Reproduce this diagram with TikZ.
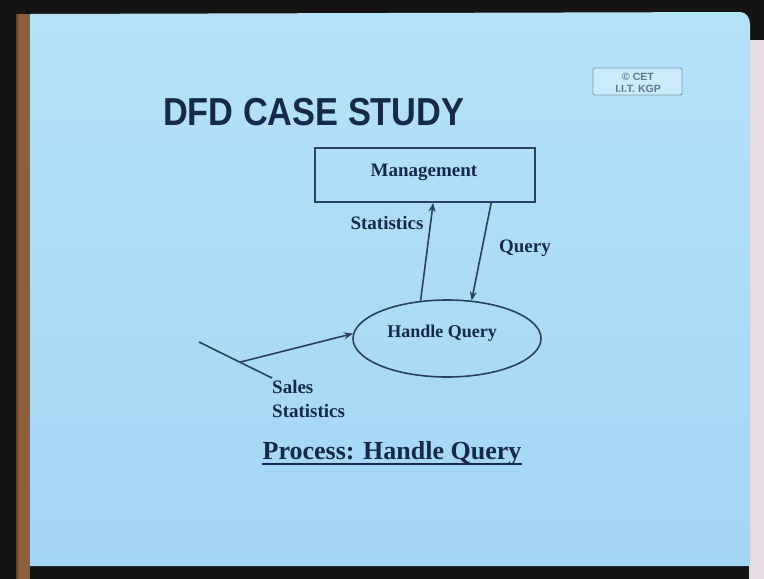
\documentclass[tikz,border=0pt]{standalone}
\usepackage{fontspec}
\setmainfont{Liberation Serif}
\newfontfamily\headfont{Liberation Sans}
\usetikzlibrary{arrows.meta,shapes.geometric,calc}

\definecolor{ink}{HTML}{17294A}
\definecolor{wire}{HTML}{2B4160}
\definecolor{slidetop}{HTML}{B6E2F8}
\definecolor{slidebot}{HTML}{A3D5F4}
\definecolor{wood}{HTML}{8E5F3D}
\definecolor{frame}{HTML}{141414}
\definecolor{badge}{HTML}{7E9CBA}
\definecolor{wall}{HTML}{E6DDE6}

\tikzset{
  lbl/.style={inner sep=0pt, text=ink, font=\bfseries\fontsize{19}{19}\selectfont},
  entity/.style={draw=wire, line width=1.6pt, minimum width=220pt, minimum height=54pt, inner sep=0pt},
  procbox/.style={draw=wire, line width=1.6pt, ellipse, minimum width=188pt, minimum height=77pt, inner sep=0pt},
  flow/.style={draw=wire, line width=1.6pt, -{Stealth[length=9pt,width=7pt]}},
  plain/.style={draw=wire, line width=1.6pt}
}

\begin{document}
\begin{tikzpicture}[x=1pt,y=-1pt]
\useasboundingbox (0,0) rectangle (764,579);

% room around the slide
\fill[frame] (0,0) rectangle (764,579);
\fill[wood] (16,14) rectangle (30,579);
\fill[wood!70!black] (16,14) rectangle (18,579);
\fill[wall] (749,40) rectangle (764,579);

% slide surface
\shade[top color=slidetop, bottom color=slidebot]
  (30,14) -- (740,12) to[out=0,in=90] (750,24) -- (750,566) -- (30,566) -- cycle;

% copyright badge
\node[draw=badge, line width=0.9pt, rounded corners=2pt, minimum width=89pt, minimum height=27pt, fill=slidetop!70!white] (cet) at (637.5,81.5) {};
\node[inner sep=0pt, text=badge!75!black, font=\headfont\bfseries\fontsize{10.5}{12}\selectfont, align=center] (cettext) at (638,82.5) {\textcopyright\ CET\\ I.I.T. KGP};

% heading
\node[inner sep=0pt, anchor=base west, xscale=0.88, text=ink, font=\headfont\bfseries\fontsize{39}{39}\selectfont] (title) at (163,125) {DFD CASE STUDY};

% external entity and process
\node[entity] (mg) at (425,175) {};
\node[lbl, anchor=base] (mgtext) at (424,176) {Management};
\node[procbox] (hq) at (447,338.5) {};
\node[lbl, font=\bfseries\fontsize{18}{18}\selectfont, anchor=base] (hqtext) at (442,337) {Handle Query};

% data flows between entity and process
\draw[flow] (hq.125) -- ($(mg.south west)+(119,0)$);
\draw[flow] ($(mg.south west)+(177,0)$) -- (hq.57);
\node[lbl, anchor=base] (statlbl) at (387,229) {Statistics};
\node[lbl, anchor=base] (querylbl) at (525,252) {Query};

% incoming sales statistics
\coordinate (s0) at (199,342);
\coordinate (s1) at (272,378);
\coordinate (sj) at ($(s0)!0.56!(s1)$);
\draw[plain] (s0) -- (s1);
\draw[flow] (sj) -- (hq.177);
\node[lbl, anchor=base west] (saleslbl) at (272,393) {Sales};
\node[lbl, anchor=base west] (salesstat) at (272,417) {Statistics};

% caption
\node[inner sep=0pt, anchor=base, text=ink, font=\bfseries\fontsize{26}{26}\selectfont] (caption) at (392,459) {Process: Handle Query};
\draw[draw=ink, line width=1.6pt] ($(caption.base west)+(0,5)$) -- ($(caption.base east)+(0,5)$);
\end{tikzpicture}
\end{document}
